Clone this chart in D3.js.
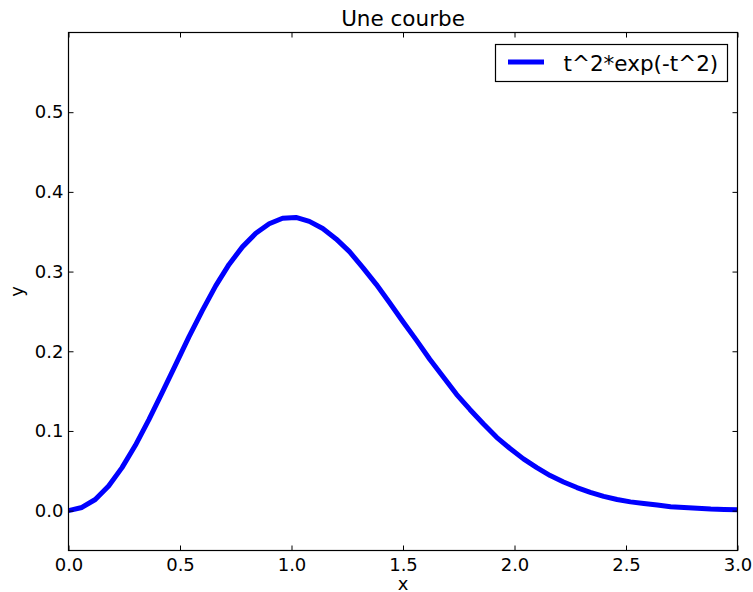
<!DOCTYPE html>
<html>
<head>
<meta charset="utf-8">
<script src="https://cdn.jsdelivr.net/npm/d3@7"></script>
<style>
  body { margin: 0; background: #fff; }
  svg { display: block; font-family: "DejaVu Sans", sans-serif; }
</style>
</head>
<body>
<svg id="chart" width="753" height="592"></svg>
<script>
const xs = [0, 0.06, 0.12, 0.18, 0.24, 0.30, 0.36, 0.42, 0.48, 0.54,
  0.60, 0.66, 0.72, 0.78, 0.84, 0.90, 0.96, 1.02, 1.08, 1.14,
  1.20, 1.26, 1.32, 1.38, 1.44, 1.50, 1.56, 1.62, 1.68, 1.74,
  1.80, 1.86, 1.92, 1.98, 2.04, 2.10, 2.16, 2.22, 2.28, 2.34,
  2.40, 2.46, 2.52, 2.58, 2.64, 2.70, 2.76, 2.82, 2.88, 2.94, 3.00];
const ys = [0, 0.004, 0.014, 0.031, 0.054, 0.082, 0.114, 0.148, 0.183, 0.218,
  0.251, 0.282, 0.309, 0.331, 0.348, 0.360, 0.367, 0.368, 0.363, 0.354,
  0.341, 0.325, 0.305, 0.284, 0.261, 0.237, 0.214, 0.190, 0.168, 0.146,
  0.127, 0.109, 0.092, 0.078, 0.065, 0.054, 0.044, 0.036, 0.029, 0.023,
  0.018, 0.014, 0.011, 0.009, 0.007, 0.005, 0.004, 0.003, 0.002, 0.0015, 0.001];
const xTicks = [0, 0.5, 1, 1.5, 2, 2.5, 3];
const yTicks = [0, 0.1, 0.2, 0.3, 0.4, 0.5];
const seriesName = "t^2*exp(-t^2)";

const mLeft = 68.5, mRight = 737.5, mTop = 32.5, mBottom = 550.5;

const svg = d3.select("#chart");

const x = d3.scaleLinear().domain([0, 3]).range([mLeft, mRight]);
const y = d3.scaleLinear().domain([-0.05, 0.6]).range([mBottom, mTop]);

// clip to axes area
svg.append("clipPath").attr("id", "clip")
  .append("rect")
  .attr("x", mLeft).attr("y", mTop)
  .attr("width", mRight - mLeft).attr("height", mBottom - mTop);

const line = d3.line()
  .x(function(d, i) { return x(xs[i]); })
  .y(function(d) { return y(d); });

svg.append("path")
  .datum(ys)
  .attr("clip-path", "url(#clip)")
  .attr("fill", "none")
  .attr("stroke", "#0000ff")
  .attr("stroke-width", 5)
  .attr("stroke-linejoin", "round")
  .attr("d", line);

// axes, ticks pointing inward like classic matplotlib
const fmt = d3.format(".1f");
const tickSize = 5;

svg.append("g")
  .attr("transform", "translate(0," + mBottom + ")")
  .call(d3.axisBottom(x).tickValues(xTicks).tickFormat(fmt).tickSizeInner(-tickSize).tickSizeOuter(0).tickPadding(8))
  .call(styleAxis);

svg.append("g")
  .attr("transform", "translate(0," + mTop + ")")
  .call(d3.axisTop(x).tickValues(xTicks).tickFormat("").tickSizeInner(-tickSize).tickSizeOuter(0))
  .call(styleAxis);

svg.append("g")
  .attr("transform", "translate(" + mLeft + ",0)")
  .call(d3.axisLeft(y).tickValues(yTicks).tickFormat(fmt).tickSizeInner(-tickSize).tickSizeOuter(0).tickPadding(5))
  .call(styleAxis);

svg.append("g")
  .attr("transform", "translate(" + mRight + ",0)")
  .call(d3.axisRight(y).tickValues(yTicks).tickFormat("").tickSizeInner(-tickSize).tickSizeOuter(0))
  .call(styleAxis);

function styleAxis(g) {
  g.select(".domain").remove();
  g.selectAll("line").attr("stroke", "#000").attr("stroke-width", 1);
  g.selectAll("text")
    .attr("fill", "#000")
    .style("font-family", "DejaVu Sans")
    .style("font-size", "18px");
}

// frame
svg.append("rect")
  .attr("x", mLeft).attr("y", mTop)
  .attr("width", mRight - mLeft).attr("height", mBottom - mTop)
  .attr("fill", "none")
  .attr("stroke", "#000")
  .attr("stroke-width", 1.2);

// title and labels
svg.append("text")
  .attr("x", (mLeft + mRight) / 2).attr("y", 26)
  .attr("text-anchor", "middle")
  .style("font-size", "21.5px")
  .text("Une courbe");

svg.append("text")
  .attr("x", (mLeft + mRight) / 2).attr("y", 590)
  .attr("text-anchor", "middle")
  .style("font-size", "18px")
  .text("x");

svg.append("text")
  .attr("transform", "translate(23," + (mTop + mBottom) / 2 + ") rotate(-90)")
  .attr("text-anchor", "middle")
  .style("font-size", "18px")
  .text("y");

// legend
const legend = svg.append("g");
legend.append("rect")
  .attr("x", 495.5).attr("y", 44.5)
  .attr("width", 232).attr("height", 37)
  .attr("fill", "#fff")
  .attr("stroke", "#000")
  .attr("stroke-width", 1.2);
legend.append("line")
  .attr("x1", 508).attr("x2", 544)
  .attr("y1", 62).attr("y2", 62)
  .attr("stroke", "#0000ff")
  .attr("stroke-width", 5);
legend.append("text")
  .attr("x", 563.5).attr("y", 70.5)
  .style("font-size", "21.5px")
  .text(seriesName);
</script>
</body>
</html>
